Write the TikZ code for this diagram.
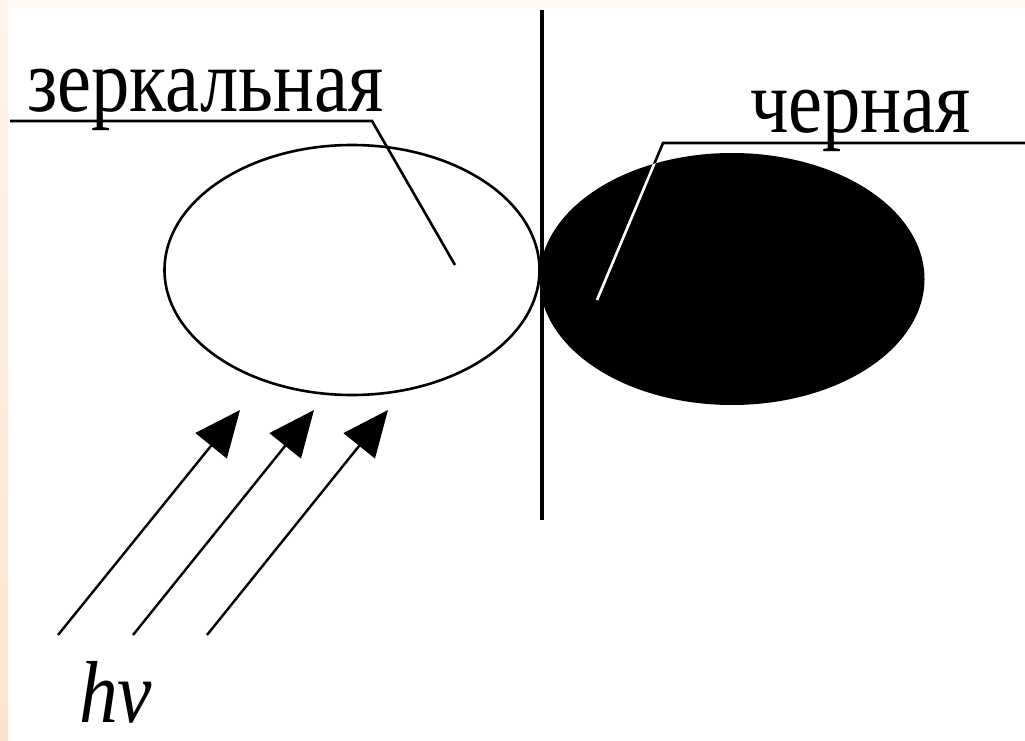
\documentclass[tikz,border=0pt]{standalone}
\usepackage{fontspec}
\setmainfont{Liberation Serif}
\usetikzlibrary{arrows.meta,shapes.geometric}
\definecolor{peachtop}{HTML}{FFF8F2}
\definecolor{peachmid}{HTML}{FFF4EA}
\definecolor{peachbot}{HTML}{FDE3CA}
\begin{document}
\begin{tikzpicture}[x=1pt,y=-1pt,
  lw/.style={line width=2.6pt},
  ray/.style={line width=2.4pt,-{Triangle[length=46pt,width=40pt]}},
  lbl/.style={anchor=base west,inner sep=0pt,font=\fontsize{90}{90}\selectfont,xscale=0.85}]
\useasboundingbox (0,0) rectangle (1025,741);
\fill[white] (0,0) rectangle (1025,741);
\fill[peachtop] (0,0) rectangle (1025,8);
\shade[top color=peachmid,bottom color=peachbot] (0,0) rectangle (8,741);
% ellipses
\node[ellipse,draw,lw,minimum width=375pt,minimum height=250pt,inner sep=0pt] (mirror) at (352,270) {};
\node[ellipse,fill=black,minimum width=385pt,minimum height=252pt,inner sep=0pt] (blackbody) at (732,279) {};
% vertical wall
\coordinate (vtop) at (542,10);
\coordinate (vbot) at (542,520);
\draw[line width=4pt] (vtop) -- (vbot);
% labels
\node[lbl] (lblz) at (27,112) {зеркальная};
\node[lbl] (lblc) at (750,133) {черная};
\coordinate (z1) at (10,121);
\coordinate (z2) at (372,121);
\coordinate (z3) at (455,265);
\draw[lw] (z1) -- (z2) -- (z3);
\coordinate (c1) at (1025,143);
\coordinate (c2) at (663,143);
\coordinate (c3) at (597,300);
\draw[lw] (c1) -- (c2) -- (c3);
\begin{scope}
\clip (blackbody.center) ellipse [x radius=192.5pt, y radius=126pt];
\draw[lw,white] (c2) -- (c3);
\end{scope}
% rays
\coordinate (a1s) at (58,635);
\coordinate (a1e) at (240,410);
\coordinate (a2s) at (133,635);
\coordinate (a2e) at (314,410);
\coordinate (a3s) at (207,635);
\coordinate (a3e) at (388,410);
\draw[ray] (a1s) -- (a1e);
\draw[ray] (a2s) -- (a2e);
\draw[ray] (a3s) -- (a3e);
\node[anchor=base west,inner sep=0pt,font=\fontsize{88}{88}\selectfont\itshape,xscale=0.88] (hv) at (79,722) {hv};
\end{tikzpicture}
\end{document}
